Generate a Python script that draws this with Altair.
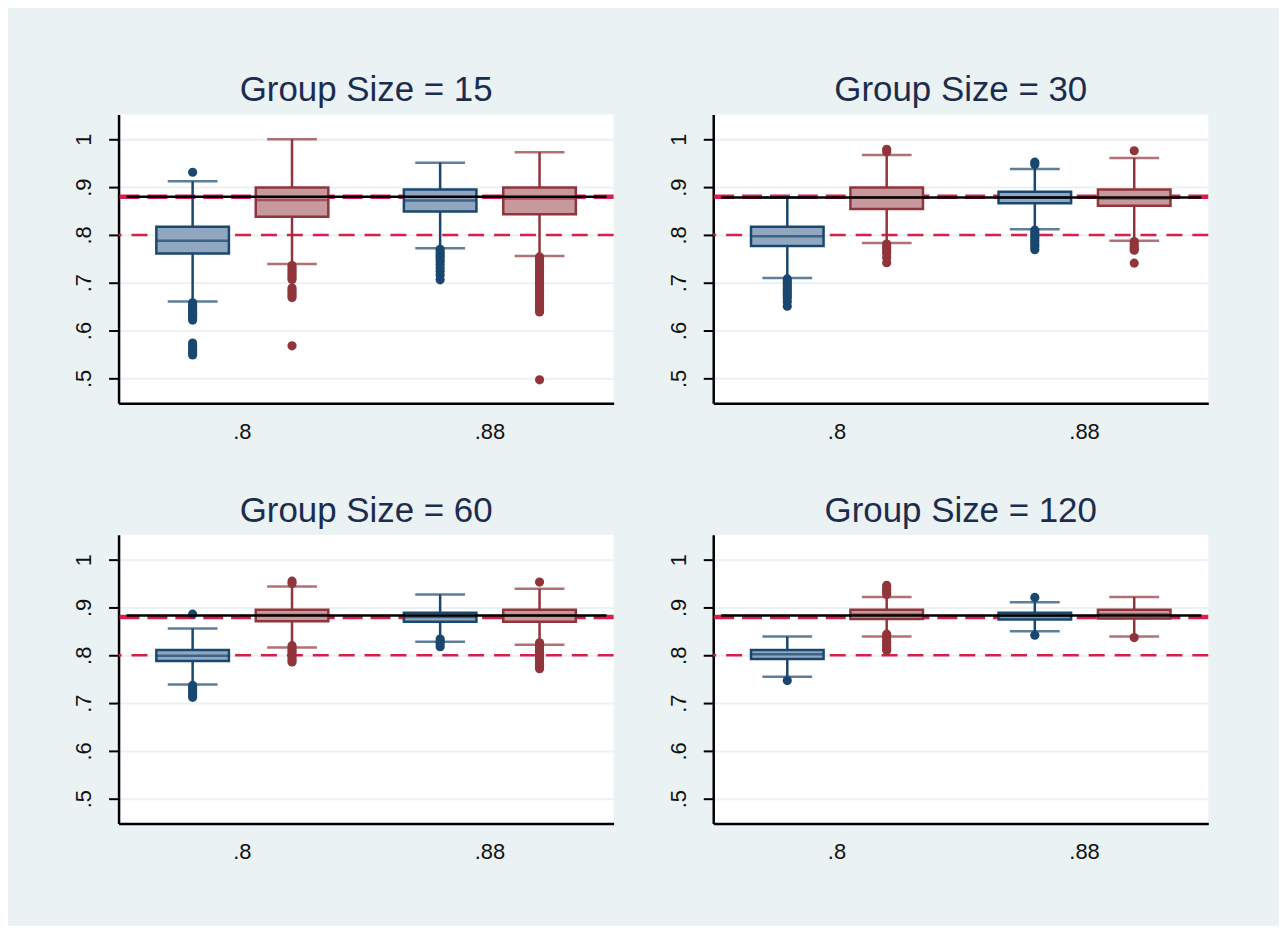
import altair as alt
import pandas as pd

# ---------------- data ----------------
panels = ["Group Size = 15", "Group Size = 30", "Group Size = 60", "Group Size = 120"]
thresholds = [".8", ".88"]
series = ["A", "B"]          # A = blue boxes, B = red boxes

# order inside each panel: (.8,A), (.8,B), (.88,A), (.88,B)
lower_whisker = [
    [0.661, 0.739, 0.772, 0.756],
    [0.710, 0.783, 0.812, 0.788],
    [0.739, 0.816, 0.828, 0.822],
    [0.755, 0.839, 0.850, 0.839],
]
q1 = [
    [0.761, 0.838, 0.849, 0.843],
    [0.777, 0.854, 0.866, 0.861],
    [0.788, 0.871, 0.870, 0.870],
    [0.792, 0.876, 0.875, 0.877],
]
median = [
    [0.788, 0.873, 0.872, 0.876],
    [0.797, 0.878, 0.878, 0.876],
    [0.799, 0.884, 0.880, 0.883],
    [0.802, 0.885, 0.882, 0.886],
]
q3 = [
    [0.817, 0.899, 0.895, 0.899],
    [0.817, 0.899, 0.890, 0.895],
    [0.811, 0.895, 0.889, 0.895],
    [0.811, 0.895, 0.889, 0.895],
]
upper_whisker = [
    [0.912, 1.000, 0.951, 0.973],
    [0.878, 0.967, 0.938, 0.961],
    [0.856, 0.944, 0.927, 0.939],
    [0.839, 0.922, 0.911, 0.922],
]
outliers = [
    [
        [0.931, 0.658, 0.654, 0.650, 0.646, 0.642, 0.638, 0.634, 0.630, 0.626, 0.622,
         0.574, 0.569, 0.564, 0.559, 0.554, 0.549],
        [0.736, 0.731, 0.726, 0.721, 0.716, 0.711, 0.707, 0.689, 0.684, 0.679, 0.674,
         0.669, 0.568],
        [0.770, 0.765, 0.760, 0.755, 0.750, 0.745, 0.738, 0.731, 0.724, 0.716, 0.706],
        [0.754, 0.749, 0.744, 0.739, 0.734, 0.729, 0.724, 0.719, 0.714, 0.709, 0.704,
         0.699, 0.694, 0.689, 0.684, 0.679, 0.674, 0.669, 0.664, 0.659, 0.654, 0.649,
         0.644, 0.639, 0.497],
    ],
    [
        [0.708, 0.703, 0.698, 0.693, 0.688, 0.683, 0.678, 0.673, 0.668, 0.660, 0.651],
        [0.979, 0.974, 0.781, 0.776, 0.771, 0.766, 0.761, 0.752, 0.742],
        [0.952, 0.947, 0.810, 0.805, 0.800, 0.795, 0.790, 0.785, 0.780, 0.775, 0.769],
        [0.976, 0.786, 0.781, 0.776, 0.771, 0.768, 0.741],
    ],
    [
        [0.886, 0.737, 0.732, 0.727, 0.722, 0.717, 0.712],
        [0.955, 0.950, 0.820, 0.815, 0.810, 0.805, 0.800, 0.795, 0.790, 0.786],
        [0.834, 0.829, 0.824, 0.818],
        [0.953, 0.826, 0.821, 0.816, 0.811, 0.806, 0.801, 0.796, 0.791, 0.786, 0.781,
         0.776, 0.772],
    ],
    [
        [0.747],
        [0.946, 0.941, 0.936, 0.931, 0.927, 0.844, 0.839, 0.834, 0.829, 0.824, 0.819,
         0.814, 0.810],
        [0.921, 0.842],
        [0.837],
    ],
]
black_line = [0.880, 0.878, 0.883, 0.883]
ref_lines = [0.80, 0.88]
y_ticks = [0.5, 0.6, 0.7, 0.8, 0.9, 1.0]

# ---------------- styling ----------------
DARK = ["#1a476f", "#90353b"]
LIGHT = ["#90a7bf", "#c8999c"]
REF_RED = "#d81e4a"
BG = "#eaf2f3"
W, H = 497, 290

cells = [(t, s) for t in thresholds for s in series]


def panel(i):
    rows = []
    orows = []
    for j, (t, s) in enumerate(cells):
        rows.append(dict(thr=t, ser=s, lw=lower_whisker[i][j], q1=q1[i][j],
                         med=median[i][j], q3=q3[i][j], uw=upper_whisker[i][j]))
        for v in outliers[i][j]:
            orows.append(dict(thr=t, ser=s, v=v))
    box = pd.DataFrame(rows)
    out = pd.DataFrame(orows)

    xenc = alt.X("thr:N", scale=alt.Scale(domain=thresholds, paddingInner=0, paddingOuter=0),
                 axis=alt.Axis(title=None, labelAngle=0, ticks=False, labelPadding=18,
                               domainWidth=2.5))
    xoff = alt.XOffset("ser:N", scale=alt.Scale(domain=series, paddingInner=0.27,
                                                 paddingOuter=0.38))
    yscale = alt.Scale(domain=[0.448, 1.052], nice=False, zero=False)
    yaxis = alt.Axis(title=None, values=y_ticks, labelAngle=270, tickSize=10,
                     labelPadding=13, grid=True, domainWidth=2.5,
                     labelExpr="replace(format(datum.value, '.1~f'), '0.', '.')")
    col = alt.Color("ser:N", scale=alt.Scale(domain=series, range=DARK), legend=None)

    refs = alt.Chart(pd.DataFrame({"y": ref_lines, "k": ["lo", "hi"]})).mark_rule(
        color=REF_RED).encode(
        y=alt.Y("y:Q", scale=yscale, axis=yaxis),
        strokeWidth=alt.StrokeWidth("k:N", scale=alt.Scale(domain=["lo", "hi"], range=[2.5, 4.5]),
                                    legend=None),
        strokeDash=alt.StrokeDash("k:N", scale=alt.Scale(domain=["lo", "hi"],
                                                         range=[[16, 10], [20, 8]]), legend=None),
    )
    base = alt.Chart(box).encode(x=xenc, xOffset=xoff)
    whisk = base.mark_rule(strokeWidth=2.5).encode(
        y=alt.Y("lw:Q", scale=yscale, axis=yaxis), y2="uw:Q", color=col)
    cap_lo = base.mark_tick(size=50, thickness=2.5).encode(y=alt.Y("lw:Q", scale=yscale), color=col)
    cap_hi = base.mark_tick(size=50, thickness=2.5).encode(y=alt.Y("uw:Q", scale=yscale), color=col)
    boxes = base.mark_bar(strokeWidth=2.5).encode(
        y=alt.Y("q1:Q", scale=yscale), y2="q3:Q",
        fill=alt.Fill("ser:N", scale=alt.Scale(domain=series, range=LIGHT), legend=None),
        stroke=alt.Stroke("ser:N", scale=alt.Scale(domain=series, range=DARK), legend=None))
    med = base.mark_tick(size=72, thickness=2.5).encode(y=alt.Y("med:Q", scale=yscale), color=col)
    pts = alt.Chart(out).mark_circle(size=85, opacity=1).encode(
        x=xenc, xOffset=xoff, y=alt.Y("v:Q", scale=yscale), color=col)
    blk = alt.Chart(pd.DataFrame({"y": [black_line[i]]})).mark_rule(
        color="black", strokeWidth=2.5).encode(
        y=alt.Y("y:Q", scale=yscale), x=alt.value(8), x2=alt.value(W - 7))

    return alt.layer(refs, whisk, cap_lo, cap_hi, boxes, med, pts, blk).properties(
        width=W, height=H,
        title=alt.TitleParams(panels[i], anchor="middle", offset=6))


row1 = alt.hconcat(panel(0), panel(1), spacing=51)
row2 = alt.hconcat(panel(2), panel(3), spacing=51)
chart = alt.vconcat(row1, row2, spacing=52).properties(
    background=BG,
    padding={"left": 65, "top": 64, "right": 68, "bottom": 62},
).configure_view(fill="white", strokeWidth=0).configure_axis(
    domainColor="black", tickColor="black", tickWidth=2,
    labelFont="Liberation Sans", labelFontSize=22, labelColor="#111111",
    gridColor=BG, gridWidth=2,
).configure_title(
    font="Liberation Sans", fontSize=35, fontWeight="normal", color="#1c2c4e",
)

chart.save("out.html", embed_options={"renderer": "svg", "actions": False})
